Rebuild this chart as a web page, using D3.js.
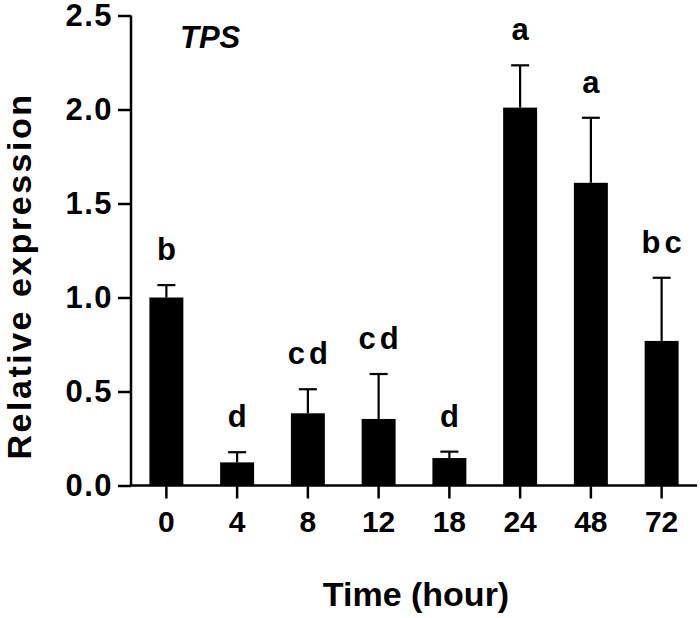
<!DOCTYPE html>
<html>
<head>
<meta charset="utf-8">
<script src="https://cdn.jsdelivr.net/npm/d3@7"></script>
<style>
  html, body { margin: 0; padding: 0; background: #fff; }
  text { font-family: "Liberation Sans", Arial, sans-serif; font-weight: bold; fill: #000; }
</style>
</head>
<body>
<svg id="chart" width="700" height="618"></svg>
<script>
const categories = ["0", "4", "8", "12", "18", "24", "48", "72"];
const means = [1.00, 0.123, 0.384, 0.354, 0.146, 2.01, 1.61, 0.769];
const errors = [0.066, 0.054, 0.128, 0.239, 0.034, 0.225, 0.346, 0.336];
const groups = ["b", "d", "cd", "cd", "d", "a", "a", "bc"];
const yTicks = [0.0, 0.5, 1.0, 1.5, 2.0, 2.5];

const svg = d3.select("#chart");
const x0 = 131, x1 = 697, yBottom = 485.5, yTop = 15.5;

const x = d3.scaleBand().domain(categories).range([x0, x1]).paddingInner(0.52).paddingOuter(0.26);
const y = d3.scaleLinear().domain([0, 2.5]).range([yBottom, yTop]);

// Bars
svg.append("g").selectAll("rect").data(categories).join("rect")
  .attr("x", d => x(d))
  .attr("width", x.bandwidth())
  .attr("y", (d, i) => y(means[i]))
  .attr("height", (d, i) => y(0) - y(means[i]))
  .attr("fill", "#000");

// Error bars
const eb = svg.append("g").attr("stroke", "#000").attr("stroke-width", 2.2);
categories.forEach((c, i) => {
  const cx = x(c) + x.bandwidth() / 2;
  eb.append("line").attr("x1", cx).attr("x2", cx).attr("y1", y(means[i])).attr("y2", y(means[i] + errors[i]));
  eb.append("line").attr("x1", cx - 9).attr("x2", cx + 9).attr("y1", y(means[i] + errors[i])).attr("y2", y(means[i] + errors[i]));
});

// Group letters
svg.append("g").selectAll("text").data(categories).join("text")
  .attr("x", d => x(d) + x.bandwidth() / 2 + 2)
  .attr("y", (d, i) => y(means[i] + errors[i]) - 25)
  .attr("text-anchor", "middle")
  .attr("font-size", 31)
  .attr("letter-spacing", 4)
  .text((d, i) => groups[i]);

// Y axis
const yAxis = svg.append("g").attr("transform", `translate(${x0},0)`)
  .call(d3.axisLeft(y).tickValues(yTicks).tickFormat(d3.format(".1f")).tickSize(13).tickPadding(5));
// X axis
const xAxis = svg.append("g").attr("transform", `translate(0,${yBottom})`)
  .call(d3.axisBottom(x).tickSize(13).tickPadding(12).tickSizeOuter(0));
xAxis.select(".domain").attr("d", `M${x0},0H${x1}`);
yAxis.select(".domain").attr("d", `M0,${y(2.5)}V${y(0)}`);
[yAxis, xAxis].forEach(a => {
  a.selectAll(".domain, line").attr("stroke", "#000").attr("stroke-width", 2.5);
  a.selectAll("text").attr("font-family", "Liberation Sans, Arial, sans-serif").attr("font-weight", "bold").attr("fill", "#000");
});
yAxis.selectAll("text").attr("font-size", 31).attr("letter-spacing", 1.5);
xAxis.selectAll("text").attr("font-size", 30);

// Titles
svg.append("text").attr("x", 180).attr("y", 47.5).attr("font-size", 31).attr("font-style", "italic").text("TPS");
svg.append("text").attr("x", 416).attr("y", 606).attr("text-anchor", "middle").attr("font-size", 34).text("Time (hour)");
svg.append("text").attr("transform", "translate(31,276) rotate(-90)").attr("text-anchor", "middle").attr("font-size", 34).attr("letter-spacing", 2.5).text("Relative expression");
</script>
</body>
</html>
